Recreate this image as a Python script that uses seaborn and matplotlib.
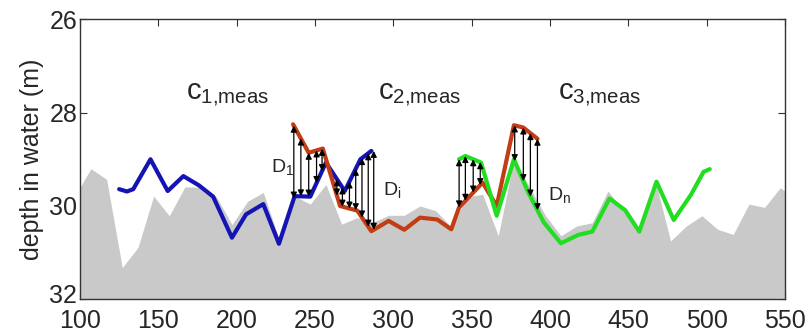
import numpy as np
import pandas as pd
import matplotlib
matplotlib.use("Agg")
import matplotlib.pyplot as plt
import matplotlib.transforms as mtransforms
import seaborn as sns

# seabed profile (grey area)
bed_x = [100, 107, 117, 127, 137, 147, 157, 167, 177, 187, 197, 207, 217, 227, 237, 247,
         257, 267, 277, 287, 297, 307, 317, 327, 337, 347, 357, 367, 377, 387, 397, 407,
         417, 427, 437, 447, 457, 467, 477, 487, 497, 507, 517, 527, 537, 547, 550]
bed_y = [29.6, 29.2, 29.43, 31.32, 30.89, 29.79, 30.21, 29.59, 29.6, 29.8, 30.4, 29.9,
         29.71, 30.7, 29.79, 29.96, 29.54, 30.39, 30.25, 30.35, 30.2, 30.2, 30.0, 30.1,
         30.45, 29.8, 29.75, 30.64, 29.0, 29.6, 30.2, 30.64, 30.43, 30.36, 29.68, 30.1,
         30.57, 29.43, 30.75, 30.43, 30.21, 30.5, 30.61, 29.96, 30.03, 29.61, 29.68]

# measured tracks
c1_x = [125, 130, 134, 145, 156, 166, 176, 185, 197, 206, 217, 227, 237, 247, 257, 269, 279, 286]
c1_y = [29.64, 29.69, 29.64, 29.0, 29.68, 29.36, 29.56, 29.8, 30.68, 30.18, 29.96, 30.81,
        29.79, 29.8, 29.07, 29.68, 29.0, 28.82]

c2_x = [236, 246, 255, 266, 277, 286, 297, 307, 317, 328, 337, 342, 357, 366, 377, 383, 392]
c2_y = [28.25, 28.86, 28.77, 30.0, 30.1, 30.54, 30.32, 30.51, 30.25, 30.29, 30.5, 30.03,
        29.5, 30.0, 28.27, 28.32, 28.56]

c3_x = [342, 346, 356, 366, 377, 386, 396, 407, 418, 427, 438, 448, 457, 468, 479, 490, 498, 502]
c3_y = [29.0, 28.93, 29.07, 30.21, 29.0, 29.7, 30.35, 30.8, 30.62, 30.55, 29.84, 30.09,
        30.55, 29.48, 30.3, 29.76, 29.27, 29.21]

# positions of the distance arrows
d1_x = [236.5, 241, 246, 251, 254.5]
di_x = [264, 267.5, 272, 276, 280, 284, 287.5]
dk_x = [342, 346, 351, 355.5]
dn_x = [377.5, 383, 387.5, 392]

sns.set_style("ticks")
plt.rcParams["font.family"] = ["Liberation Sans", "DejaVu Sans"]
plt.rcParams["mathtext.default"] = "regular"

fig, ax = plt.subplots(figsize=(8.12, 3.32), dpi=100)
fig.subplots_adjust(left=0.0985, right=0.9667, bottom=0.0985, top=0.9419)

ax.fill_between(bed_x, bed_y, 32, color="#c9c9c9", lw=0, zorder=1)

tracks = pd.DataFrame({
    "x": c1_x + c2_x + c3_x,
    "y": c1_y + c2_y + c3_y,
    "track": ["c1"] * len(c1_x) + ["c2"] * len(c2_x) + ["c3"] * len(c3_x),
})
sns.lineplot(data=tracks, x="x", y="y", hue="track", sort=False, estimator=None,
             palette={"c1": "#1414b4", "c2": "#c23c14", "c3": "#22dd22"},
             lw=3, legend=False, ax=ax, zorder=3)


def arrows(xs, top_x, top_y, bot_x, bot_y):
    for x in xs:
        y0 = np.interp(x, top_x, top_y)
        y1 = np.interp(x, bot_x, bot_y)
        ax.annotate("", xy=(x, y1), xytext=(x, y0),
                    arrowprops=dict(arrowstyle="<|-|>", color="k", lw=0.9,
                                    mutation_scale=9, shrinkA=0, shrinkB=0),
                    zorder=4)


arrows(d1_x, c2_x, c2_y, c1_x, c1_y)
arrows(di_x, c1_x, c1_y, c2_x, c2_y)
arrows(dk_x, c3_x, c3_y, c2_x, c2_y)
arrows(dn_x, c2_x, c2_y, c3_x, c3_y)

ax.text(167.5, 27.62, r"$c_{1{,}meas}$", fontsize=21, va="center")
ax.text(290.5, 27.62, r"$c_{2{,}meas}$", fontsize=21, va="center")
ax.text(405, 27.62, r"$c_{3{,}meas}$", fontsize=21, va="center")
ax.text(222, 29.16, r"$D_1$", fontsize=14, va="center")
ax.text(293.5, 29.66, r"$D_i$", fontsize=14, va="center")
ax.text(399, 29.77, r"$D_n$", fontsize=14, va="center")

ax.set_xlim(100, 550)
ax.set_ylim(32, 26)
ax.set_xticks(range(100, 551, 50))
ax.set_yticks([26, 28, 30, 32])
ax.set_xlabel("")
ax.set_ylabel("depth in water (m)", fontsize=18, labelpad=4)
ax.tick_params(axis="both", direction="in", length=5, labelsize=18,
               top=True, right=True, color="#333333")
ax.tick_params(axis="x", pad=7)
ax.tick_params(axis="y", pad=2)
for s in ax.spines.values():
    s.set_color("#333333")
    s.set_linewidth(1)

# lift the bottom y label a little so it clears the first x label
bottom_tick = ax.yaxis.get_major_ticks()[-1]
lift = mtransforms.ScaledTranslation(0, 6 / 100, fig.dpi_scale_trans)
bottom_tick.label1.set_transform(bottom_tick.label1.get_transform() + lift)

fig.savefig("out.png", dpi=100)
